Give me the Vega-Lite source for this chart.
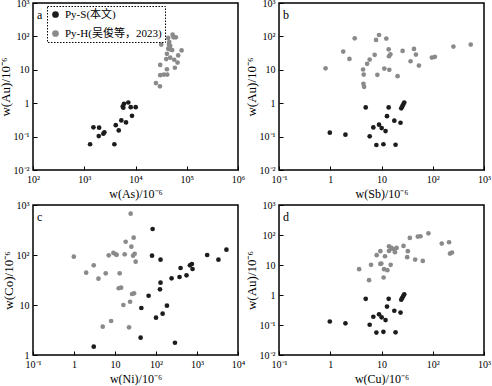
{
  "$schema": "https://vega.github.io/schema/vega-lite/v6.json",
  "padding": {"left": -2, "top": -3, "right": 0, "bottom": 0},
  "bounds": "flush",
  "columns": 2,
  "spacing": {"row": 35, "column": 41},
  "resolve": {"scale": {"color": "independent"}, "legend": {"color": "independent"}},
  "config": {
    "view": {"stroke": "black", "strokeWidth": 1.5},
    "font": "Liberation Serif",
    "axis": {"domain": false, "grid": false, "tickSize": -4, "tickColor": "black", "tickWidth": 1, "labelPadding": 8, "labelFont": "Liberation Serif", "labelFontSize": 10, "labelColor": "black", "labelFlush": false, "labelOverlap": false, "titleFont": "Liberation Serif", "titleFontWeight": "normal", "titleColor": "black"},
    "axisX": {"titleFontSize": 12, "titlePadding": 4},
    "axisY": {"titleFontSize": 13, "titlePadding": 1},
    "title": {"anchor": "start", "frame": "group", "offset": -16, "dx": 4, "dy": 8, "fontSize": 12, "fontWeight": "normal", "font": "Liberation Serif", "color": "black"},
    "circle": {"size": 22, "opacity": 1}
  },
  "datasets": {
    "pa": [
      {"As": 1300, "Au": 0.059, "type": "Py-S(本文)"},
      {"As": 1510, "Au": 0.19, "type": "Py-S(本文)"},
      {"As": 1950, "Au": 0.185, "type": "Py-S(本文)"},
      {"As": 1920, "Au": 0.104, "type": "Py-S(本文)"},
      {"As": 2360, "Au": 0.122, "type": "Py-S(本文)"},
      {"As": 2470, "Au": 0.134, "type": "Py-S(本文)"},
      {"As": 3870, "Au": 0.059, "type": "Py-S(本文)"},
      {"As": 4120, "Au": 0.22, "type": "Py-S(本文)"},
      {"As": 4710, "Au": 0.153, "type": "Py-S(本文)"},
      {"As": 5290, "Au": 0.305, "type": "Py-S(本文)"},
      {"As": 6530, "Au": 0.266, "type": "Py-S(本文)"},
      {"As": 5640, "Au": 0.80, "type": "Py-S(本文)"},
      {"As": 5970, "Au": 0.96, "type": "Py-S(本文)"},
      {"As": 5790, "Au": 0.73, "type": "Py-S(本文)"},
      {"As": 7240, "Au": 1.05, "type": "Py-S(本文)"},
      {"As": 8070, "Au": 0.76, "type": "Py-S(本文)"},
      {"As": 10090, "Au": 0.76, "type": "Py-S(本文)"},
      {"As": 8550, "Au": 0.42, "type": "Py-S(本文)"},
      {"As": 52960, "Au": 113, "type": "Py-H(吴俊等，2023)"},
      {"As": 61380, "Au": 94, "type": "Py-H(吴俊等，2023)"},
      {"As": 55350, "Au": 94, "type": "Py-H(吴俊等，2023)"},
      {"As": 43450, "Au": 90, "type": "Py-H(吴俊等，2023)"},
      {"As": 45500, "Au": 68, "type": "Py-H(吴俊等，2023)"},
      {"As": 31770, "Au": 57, "type": "Py-H(吴俊等，2023)"},
      {"As": 44870, "Au": 57, "type": "Py-H(吴俊等，2023)"},
      {"As": 47550, "Au": 52, "type": "Py-H(吴俊等，2023)"},
      {"As": 43450, "Au": 43, "type": "Py-H(吴俊等，2023)"},
      {"As": 46900, "Au": 41, "type": "Py-H(吴俊等，2023)"},
      {"As": 52000, "Au": 39, "type": "Py-H(吴俊等，2023)"},
      {"As": 79250, "Au": 38, "type": "Py-H(吴俊等，2023)"},
      {"As": 68100, "Au": 27, "type": "Py-H(吴俊等，2023)"},
      {"As": 41020, "Au": 30, "type": "Py-H(吴俊等，2023)"},
      {"As": 47550, "Au": 23, "type": "Py-H(吴俊等，2023)"},
      {"As": 39720, "Au": 21, "type": "Py-H(吴俊等，2023)"},
      {"As": 56890, "Au": 20, "type": "Py-H(吴俊等，2023)"},
      {"As": 30340, "Au": 14, "type": "Py-H(吴俊等，2023)"},
      {"As": 66220, "Au": 16.5, "type": "Py-H(吴俊等，2023)"},
      {"As": 58610, "Au": 11.5, "type": "Py-H(吴俊等，2023)"},
      {"As": 41020, "Au": 10.4, "type": "Py-H(吴俊等，2023)"},
      {"As": 35800, "Au": 7.2, "type": "Py-H(吴俊等，2023)"},
      {"As": 30340, "Au": 6.9, "type": "Py-H(吴俊等，2023)"},
      {"As": 41590, "Au": 7.2, "type": "Py-H(吴俊等，2023)"},
      {"As": 25060, "Au": 4.0, "type": "Py-H(吴俊等，2023)"},
      {"As": 30000, "Au": 3.2, "type": "Py-H(吴俊等，2023)"}
    ],
    "pb": [
      {"Sb": 0.98, "Au": 0.131, "type": "Py-S"},
      {"Sb": 1.98, "Au": 0.114, "type": "Py-S"},
      {"Sb": 4.92, "Au": 0.746, "type": "Py-S"},
      {"Sb": 13.8, "Au": 0.746, "type": "Py-S"},
      {"Sb": 12.8, "Au": 0.41, "type": "Py-S"},
      {"Sb": 6.93, "Au": 0.188, "type": "Py-S"},
      {"Sb": 8.95, "Au": 0.227, "type": "Py-S"},
      {"Sb": 10.07, "Au": 0.18, "type": "Py-S"},
      {"Sb": 12.0, "Au": 0.146, "type": "Py-S"},
      {"Sb": 5.88, "Au": 0.102, "type": "Py-S"},
      {"Sb": 7.94, "Au": 0.056, "type": "Py-S"},
      {"Sb": 10.9, "Au": 0.059, "type": "Py-S"},
      {"Sb": 18.8, "Au": 0.057, "type": "Py-S"},
      {"Sb": 17.8, "Au": 0.299, "type": "Py-S"},
      {"Sb": 23.5, "Au": 0.26, "type": "Py-S"},
      {"Sb": 24.3, "Au": 0.70, "type": "Py-S"},
      {"Sb": 25.4, "Au": 0.80, "type": "Py-S"},
      {"Sb": 26.6, "Au": 0.92, "type": "Py-S"},
      {"Sb": 27.8, "Au": 1.05, "type": "Py-S"},
      {"Sb": 0.81, "Au": 11.1, "type": "Py-H"},
      {"Sb": 1.79, "Au": 35.1, "type": "Py-H"},
      {"Sb": 2.37, "Au": 21.2, "type": "Py-H"},
      {"Sb": 3.0, "Au": 87.7, "type": "Py-H"},
      {"Sb": 4.37, "Au": 10.2, "type": "Py-H"},
      {"Sb": 4.5, "Au": 7.2, "type": "Py-H"},
      {"Sb": 4.44, "Au": 3.81, "type": "Py-H"},
      {"Sb": 4.58, "Au": 3.1, "type": "Py-H"},
      {"Sb": 5.24, "Au": 15.1, "type": "Py-H"},
      {"Sb": 5.88, "Au": 20.2, "type": "Py-H"},
      {"Sb": 7.36, "Au": 28, "type": "Py-H"},
      {"Sb": 7.83, "Au": 78.5, "type": "Py-H"},
      {"Sb": 8.3, "Au": 7.06, "type": "Py-H"},
      {"Sb": 8.95, "Au": 110, "type": "Py-H"},
      {"Sb": 11.35, "Au": 10.9, "type": "Py-H"},
      {"Sb": 12.4, "Au": 86, "type": "Py-H"},
      {"Sb": 13.8, "Au": 41.1, "type": "Py-H"},
      {"Sb": 14.0, "Au": 25.4, "type": "Py-H"},
      {"Sb": 14.9, "Au": 29.2, "type": "Py-H"},
      {"Sb": 14.2, "Au": 10, "type": "Py-H"},
      {"Sb": 20.6, "Au": 6.43, "type": "Py-H"},
      {"Sb": 25.8, "Au": 36.8, "type": "Py-H"},
      {"Sb": 36.9, "Au": 18.0, "type": "Py-H"},
      {"Sb": 43, "Au": 42.3, "type": "Py-H"},
      {"Sb": 47, "Au": 28.6, "type": "Py-H"},
      {"Sb": 53.7, "Au": 13.4, "type": "Py-H"},
      {"Sb": 96.2, "Au": 23.2, "type": "Py-H"},
      {"Sb": 110, "Au": 24.4, "type": "Py-H"},
      {"Sb": 253, "Au": 49.5, "type": "Py-H"},
      {"Sb": 551, "Au": 56.8, "type": "Py-H"}
    ],
    "pc": [
      {"Ni": 82.7, "Co": 331, "type": "Py-S"},
      {"Ni": 80, "Co": 96.8, "type": "Py-S"},
      {"Ni": 129, "Co": 80.5, "type": "Py-S"},
      {"Ni": 1770, "Co": 100, "type": "Py-S"},
      {"Ni": 3335, "Co": 80.5, "type": "Py-S"},
      {"Ni": 5220, "Co": 128, "type": "Py-S"},
      {"Ni": 397, "Co": 55, "type": "Py-S"},
      {"Ni": 672, "Co": 62.2, "type": "Py-S"},
      {"Ni": 751, "Co": 66, "type": "Py-S"},
      {"Ni": 778, "Co": 52.5, "type": "Py-S"},
      {"Ni": 555, "Co": 39.3, "type": "Py-S"},
      {"Ni": 375, "Co": 36.3, "type": "Py-S"},
      {"Ni": 240, "Co": 34.2, "type": "Py-S"},
      {"Ni": 129, "Co": 27.9, "type": "Py-S"},
      {"Ni": 125, "Co": 20.6, "type": "Py-S"},
      {"Ni": 66, "Co": 15.3, "type": "Py-S"},
      {"Ni": 43.9, "Co": 8.7, "type": "Py-S"},
      {"Ni": 185, "Co": 9.7, "type": "Py-S"},
      {"Ni": 145, "Co": 6.7, "type": "Py-S"},
      {"Ni": 100, "Co": 5.57, "type": "Py-S"},
      {"Ni": 42.2, "Co": 2.22, "type": "Py-S"},
      {"Ni": 290, "Co": 1.76, "type": "Py-S"},
      {"Ni": 3.03, "Co": 1.47, "type": "Py-S"},
      {"Ni": 24.1, "Co": 670, "type": "Py-H"},
      {"Ni": 28.5, "Co": 222, "type": "Py-H"},
      {"Ni": 18.2, "Co": 184, "type": "Py-H"},
      {"Ni": 25.1, "Co": 147, "type": "Py-H"},
      {"Ni": 0.99, "Co": 92.5, "type": "Py-H"},
      {"Ni": 7.03, "Co": 98.6, "type": "Py-H"},
      {"Ni": 9.14, "Co": 110, "type": "Py-H"},
      {"Ni": 10.4, "Co": 103, "type": "Py-H"},
      {"Ni": 11.0, "Co": 101, "type": "Py-H"},
      {"Ni": 17.2, "Co": 103, "type": "Py-H"},
      {"Ni": 27.6, "Co": 96.8, "type": "Py-H"},
      {"Ni": 30.2, "Co": 106, "type": "Py-H"},
      {"Ni": 31.9, "Co": 73.5, "type": "Py-H"},
      {"Ni": 3.03, "Co": 62.2, "type": "Py-H"},
      {"Ni": 1.98, "Co": 44.3, "type": "Py-H"},
      {"Ni": 5.94, "Co": 43, "type": "Py-H"},
      {"Ni": 13.0, "Co": 43, "type": "Py-H"},
      {"Ni": 3.95, "Co": 33.6, "type": "Py-H"},
      {"Ni": 12.3, "Co": 21.6, "type": "Py-H"},
      {"Ni": 14.1, "Co": 22.2, "type": "Py-H"},
      {"Ni": 26.1, "Co": 16.6, "type": "Py-H"},
      {"Ni": 29.2, "Co": 17.1, "type": "Py-H"},
      {"Ni": 16.0, "Co": 10, "type": "Py-H"},
      {"Ni": 23.3, "Co": 11.6, "type": "Py-H"},
      {"Ni": 8.04, "Co": 4.79, "type": "Py-H"},
      {"Ni": 5.02, "Co": 3.68, "type": "Py-H"},
      {"Ni": 22.0, "Co": 3.58, "type": "Py-H"}
    ],
    "pd": [
      {"Cu": 0.98, "Au": 0.131, "type": "Py-S"},
      {"Cu": 1.98, "Au": 0.114, "type": "Py-S"},
      {"Cu": 4.92, "Au": 0.746, "type": "Py-S"},
      {"Cu": 13.8, "Au": 0.746, "type": "Py-S"},
      {"Cu": 12.8, "Au": 0.41, "type": "Py-S"},
      {"Cu": 6.93, "Au": 0.188, "type": "Py-S"},
      {"Cu": 8.95, "Au": 0.227, "type": "Py-S"},
      {"Cu": 10.07, "Au": 0.18, "type": "Py-S"},
      {"Cu": 12.0, "Au": 0.146, "type": "Py-S"},
      {"Cu": 5.88, "Au": 0.102, "type": "Py-S"},
      {"Cu": 7.94, "Au": 0.056, "type": "Py-S"},
      {"Cu": 10.9, "Au": 0.059, "type": "Py-S"},
      {"Cu": 18.8, "Au": 0.057, "type": "Py-S"},
      {"Cu": 17.8, "Au": 0.299, "type": "Py-S"},
      {"Cu": 23.5, "Au": 0.26, "type": "Py-S"},
      {"Cu": 24.3, "Au": 0.70, "type": "Py-S"},
      {"Cu": 25.4, "Au": 0.80, "type": "Py-S"},
      {"Cu": 26.6, "Au": 0.92, "type": "Py-S"},
      {"Cu": 27.8, "Au": 1.05, "type": "Py-S"},
      {"Cu": 3.66, "Au": 7.25, "type": "Py-H"},
      {"Cu": 5.72, "Au": 3.12, "type": "Py-H"},
      {"Cu": 6.25, "Au": 10.1, "type": "Py-H"},
      {"Cu": 8.06, "Au": 21.2, "type": "Py-H"},
      {"Cu": 9.5, "Au": 28.8, "type": "Py-H"},
      {"Cu": 9.5, "Au": 10.9, "type": "Py-H"},
      {"Cu": 9.93, "Au": 11.2, "type": "Py-H"},
      {"Cu": 11.7, "Au": 19.6, "type": "Py-H"},
      {"Cu": 11.2, "Au": 7.25, "type": "Py-H"},
      {"Cu": 13.0, "Au": 6.7, "type": "Py-H"},
      {"Cu": 11.0, "Au": 3.83, "type": "Py-H"},
      {"Cu": 15.1, "Au": 10.1, "type": "Py-H"},
      {"Cu": 14.0, "Au": 42.2, "type": "Py-H"},
      {"Cu": 14.0, "Au": 29.5, "type": "Py-H"},
      {"Cu": 15.5, "Au": 37.1, "type": "Py-H"},
      {"Cu": 16.7, "Au": 34.4, "type": "Py-H"},
      {"Cu": 18.3, "Au": 26.7, "type": "Py-H"},
      {"Cu": 19.7, "Au": 37.1, "type": "Py-H"},
      {"Cu": 26.9, "Au": 43.3, "type": "Py-H"},
      {"Cu": 32.7, "Au": 28.8, "type": "Py-H"},
      {"Cu": 31.7, "Au": 18.2, "type": "Py-H"},
      {"Cu": 35.7, "Au": 79.9, "type": "Py-H"},
      {"Cu": 45.4, "Au": 15.2, "type": "Py-H"},
      {"Cu": 51.1, "Au": 88.5, "type": "Py-H"},
      {"Cu": 57.6, "Au": 90.8, "type": "Py-H"},
      {"Cu": 63.9, "Au": 13.7, "type": "Py-H"},
      {"Cu": 82.4, "Au": 114, "type": "Py-H"},
      {"Cu": 150, "Au": 51.8, "type": "Py-H"},
      {"Cu": 208, "Au": 57.3, "type": "Py-H"},
      {"Cu": 217, "Au": 24, "type": "Py-H"},
      {"Cu": 237, "Au": 26, "type": "Py-H"}
    ]
  },
  "concat": [
    {
      "width": 205, "height": 167,
      "title": "a",
      "data": {"name": "pa"},
      "mark": "circle",
      "encoding": {
        "x": {"field": "As", "type": "quantitative", "scale": {"type": "log", "domain": [100, 1000000], "nice": false},
              "axis": {"title": "w(As)/10⁻⁶", "values": [100, 1000, 10000, 100000, 1000000], "labelExpr": "['10⁻²','10⁻¹','1','10','10²','10³','10⁴','10⁵','10⁶'][round(log(datum.value)/LN10)+2]"}},
        "y": {"field": "Au", "type": "quantitative", "scale": {"type": "log", "domain": [0.01, 1000], "nice": false},
              "axis": {"title": "w(Au)/10⁻⁶", "values": [0.01, 0.1, 1, 10, 100, 1000], "labelExpr": "['10⁻²','10⁻¹','1','10','10²','10³','10⁴','10⁵','10⁶'][round(log(datum.value)/LN10)+2]"}},
        "color": {"field": "type", "type": "nominal",
                  "scale": {"domain": ["Py-S(本文)", "Py-H(吴俊等，2023)"], "range": ["#1c1c1c", "#8a8a8a"]},
                  "legend": {"orient": "none", "legendX": 14, "legendY": 3, "title": null, "strokeColor": "black", "padding": 3, "symbolSize": 45, "symbolType": "circle", "labelFont": "Liberation Serif, Noto Sans CJK SC", "labelFontSize": 11, "labelColor": "black", "rowPadding": 7, "symbolStrokeWidth": 0,
                             "encode": {"legend": {"update": {"strokeDash": {"value": [1.5, 1.5]}, "strokeWidth": {"value": 1}}}}}}
      }
    },
    {
      "width": 205, "height": 167,
      "title": "b",
      "data": {"name": "pb"},
      "mark": "circle",
      "encoding": {
        "x": {"field": "Sb", "type": "quantitative", "scale": {"type": "log", "domain": [0.1, 1000], "nice": false},
              "axis": {"title": "w(Sb)/10⁻⁶", "values": [0.1, 1, 10, 100, 1000], "labelExpr": "['10⁻²','10⁻¹','1','10','10²','10³','10⁴','10⁵','10⁶'][round(log(datum.value)/LN10)+2]"}},
        "y": {"field": "Au", "type": "quantitative", "scale": {"type": "log", "domain": [0.01, 1000], "nice": false},
              "axis": {"title": "w(Au)/10⁻⁶", "values": [0.01, 0.1, 1, 10, 100, 1000], "labelExpr": "['10⁻²','10⁻¹','1','10','10²','10³','10⁴','10⁵','10⁶'][round(log(datum.value)/LN10)+2]"}},
        "color": {"field": "type", "type": "nominal", "scale": {"domain": ["Py-S", "Py-H"], "range": ["#1c1c1c", "#8a8a8a"]}, "legend": null}
      }
    },
    {
      "width": 205, "height": 150,
      "title": "c",
      "data": {"name": "pc"},
      "mark": "circle",
      "encoding": {
        "x": {"field": "Ni", "type": "quantitative", "scale": {"type": "log", "domain": [0.1, 10000], "nice": false},
              "axis": {"title": "w(Ni)/10⁻⁶", "values": [0.1, 1, 10, 100, 1000, 10000], "labelExpr": "['10⁻²','10⁻¹','1','10','10²','10³','10⁴','10⁵','10⁶'][round(log(datum.value)/LN10)+2]"}},
        "y": {"field": "Co", "type": "quantitative", "scale": {"type": "log", "domain": [1, 1000], "nice": false},
              "axis": {"title": "w(Co)/10⁻⁶", "values": [1, 10, 100, 1000], "labelExpr": "['10⁻²','10⁻¹','1','10','10²','10³','10⁴','10⁵','10⁶'][round(log(datum.value)/LN10)+2]"}},
        "color": {"field": "type", "type": "nominal", "scale": {"domain": ["Py-S", "Py-H"], "range": ["#1c1c1c", "#8a8a8a"]}, "legend": null}
      }
    },
    {
      "width": 205, "height": 150,
      "title": "d",
      "data": {"name": "pd"},
      "mark": "circle",
      "encoding": {
        "x": {"field": "Cu", "type": "quantitative", "scale": {"type": "log", "domain": [0.1, 1000], "nice": false},
              "axis": {"title": "w(Cu)/10⁻⁶", "values": [0.1, 1, 10, 100, 1000], "labelExpr": "['10⁻²','10⁻¹','1','10','10²','10³','10⁴','10⁵','10⁶'][round(log(datum.value)/LN10)+2]"}},
        "y": {"field": "Au", "type": "quantitative", "scale": {"type": "log", "domain": [0.01, 1000], "nice": false},
              "axis": {"title": "w(Au)/10⁻⁶", "values": [0.01, 0.1, 1, 10, 100, 1000], "labelExpr": "['10⁻²','10⁻¹','1','10','10²','10³','10⁴','10⁵','10⁶'][round(log(datum.value)/LN10)+2]"}},
        "color": {"field": "type", "type": "nominal", "scale": {"domain": ["Py-S", "Py-H"], "range": ["#1c1c1c", "#8a8a8a"]}, "legend": null}
      }
    }
  ]
}
